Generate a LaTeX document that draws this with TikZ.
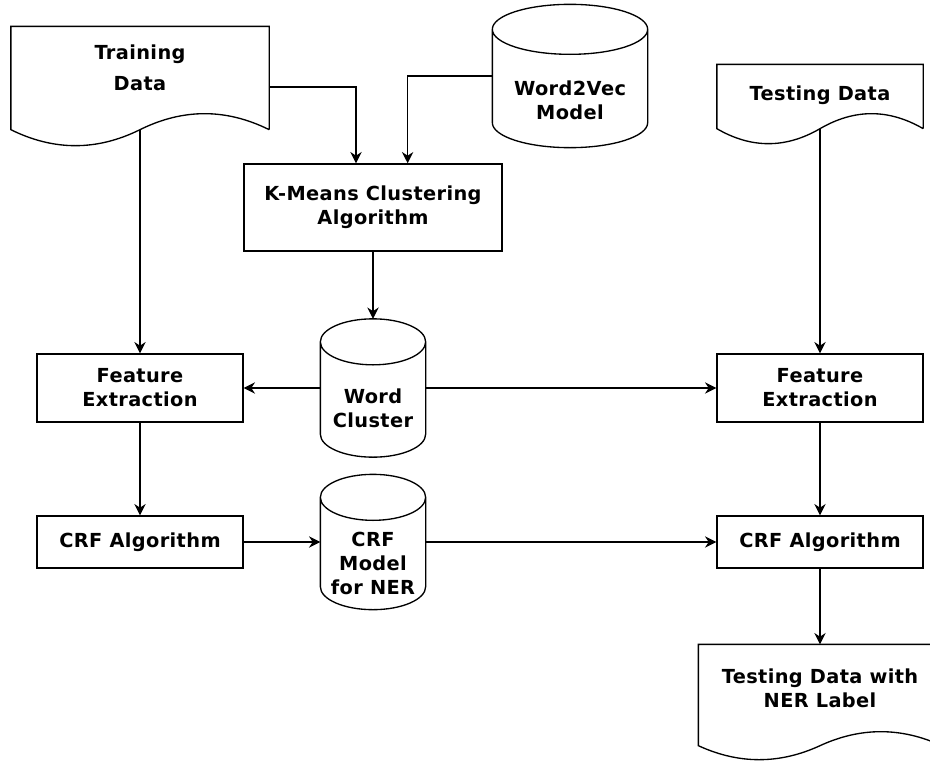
\documentclass[tikz,border=0pt]{standalone}
\usepackage{fontspec}
\setmainfont[LetterSpace=2]{DejaVu Sans}
\usetikzlibrary{arrows.meta,calc}

% drum: node name, half height of the end ellipse
\newcommand{\drum}[2]{%
  \draw let \p1=(#1.north west), \p2=(#1.south east) in
    (\x1,\y1-#2) -- (\x1,\y2+#2)
    arc[start angle=180, end angle=360, x radius={(\x2-\x1)/2}, y radius=#2]
    -- (\x2,\y1-#2)
    ({(\x1+\x2)/2},\y1-#2) ellipse[x radius={(\x2-\x1)/2}, y radius=#2];}
% document sheet: node name, wave amplitude
\newcommand{\sheet}[2]{%
  \draw let \p1=(#1.north west), \p2=(#1.south east) in
    (\x2,\y2) -- (\x2,\y1) -- (\x1,\y1) -- (\x1,\y2)
    .. controls ({\x1+(\x2-\x1)/6},\y2-4*#2/3) and ({\x1+(\x2-\x1)/3},\y2-4*#2/3) .. ({(\x1+\x2)/2},\y2)
    .. controls ({\x2-(\x2-\x1)/3},\y2+4*#2/3) and ({\x2-(\x2-\x1)/6},\y2+4*#2/3) .. (\x2,\y2);}

\begin{document}
\begin{tikzpicture}[x=0.75pt,y=-0.75pt,line width=1pt,
    font=\bfseries\fontsize{14.5}{18}\selectfont,
    every node/.style={align=center,inner sep=0pt},
    box/.style={draw,minimum width=154.5pt},
    holder/.style={minimum width=#1}]
  \useasboundingbox (0,0) rectangle (930,760);
  % sources
  \node[holder=192.75pt,minimum height=76.5pt,
        label={[yshift=7.5pt]center:Training\\[5pt]Data}] (train) at (140,78) {};
  \node[holder=115.5pt,minimum height=106.5pt,
        label={[yshift=-18pt]center:Word2Vec\\Model}] (w2v) at (570,76) {};
  \node[holder=153.75pt,minimum height=47.25pt,
        label={[yshift=1pt]center:Testing Data}] (test) at (820,96.5) {};
  % clustering
  \node[box,minimum width=193.5pt,minimum height=65.25pt] (km) at (373,207.5)
    {K-Means Clustering\\Algorithm};
  \node[holder=78pt,minimum height=102.75pt,
        label={[yshift=-15pt]center:Word\\Cluster}] (wc) at (373,388) {};
  % training side
  \node[box,minimum height=51pt] (fe1) at (140,388) {Feature\\Extraction};
  \node[box,minimum height=39pt] (crf1) at (140,542) {CRF Algorithm};
  \node[holder=78pt,minimum height=100.5pt,
        label={[yshift=-16pt]center:CRF\\Model\\for NER}] (model) at (373,542) {};
  % testing side
  \node[box,minimum height=51pt] (fe2) at (820,388) {Feature\\Extraction};
  \node[box,minimum height=39pt] (crf2) at (820,542) {CRF Algorithm};
  \node[holder=181.5pt,minimum height=75pt,
        label={[yshift=5pt]center:Testing Data with\\NER Label}] (out) at (820,695) {};

  \sheet{train}{12pt}
  \sheet{test}{11.25pt}
  \sheet{out}{10.5pt}
  \drum{w2v}{18.75pt}
  \drum{wc}{17.25pt}
  \drum{model}{17.25pt}

  \begin{scope}[-{Stealth[length=8.5pt,width=8.5pt]}]
    \draw ([yshift=-6.75pt]train.east) -| ([xshift=-12.75pt]km.north);
    \draw (w2v.west) -| ([xshift=26pt]km.north);
    \draw (km) to (wc);
    \draw (train.south) to (fe1);
    \draw (wc) to (fe1);
    \draw (wc) to (fe2);
    \draw (test.south) to (fe2);
    \draw (fe1) to (crf1);
    \draw (fe2) to (crf2);
    \draw (crf1) to (model);
    \draw (model) to (crf2);
    \draw (crf2) to (out);
  \end{scope}
\end{tikzpicture}
\end{document}
